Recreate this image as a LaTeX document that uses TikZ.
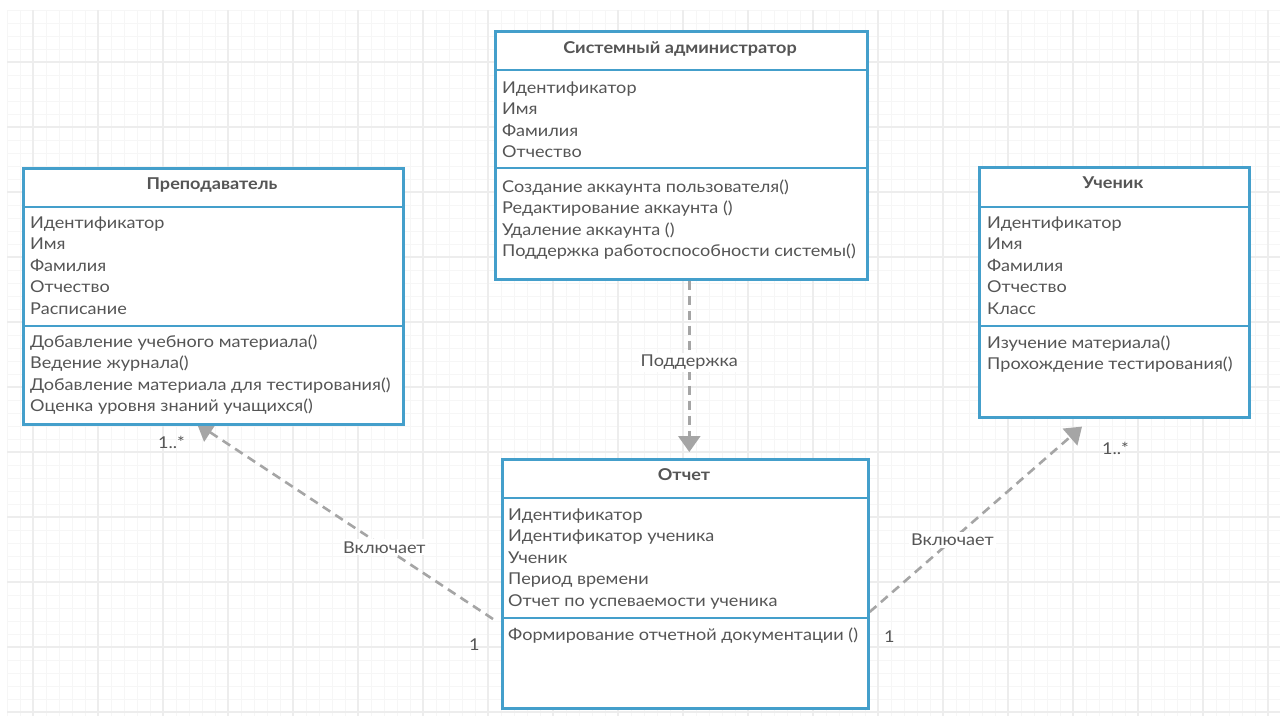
\documentclass[tikz,border=0pt]{standalone}
\usepackage{fontspec}
\setmainfont{Lato}[FakeStretch=1.11]
\usetikzlibrary{arrows.meta,calc}
\pgfdeclarelayer{grid}
\pgfdeclarelayer{links}
\pgfsetlayers{grid,links,main}

\definecolor{umlblue}{HTML}{449FCB}
\definecolor{umltext}{HTML}{555555}
\definecolor{linkgray}{HTML}{A5A5A5}
\definecolor{gridminor}{HTML}{F6F6F6}
\definecolor{gridmajor}{HTML}{EDEDED}

\tikzset{
  classbox/.style={draw=umlblue, line width=2.6pt, fill=white, anchor=north west, inner sep=0pt},
  divider/.style={draw=umlblue, line width=2.6pt},
  classtitle/.style={font=\fontsize{16.3}{21.5}\selectfont\bfseries, text=umltext, anchor=base, inner sep=0pt},
  members/.style={font=\fontsize{16.3}{21.5}\selectfont, text=umltext, anchor=north west, inner sep=0pt, align=left},
  link/.style={draw=linkgray, line width=2.6pt, dash pattern=on 9pt off 6pt,
    -{Triangle[width=22pt,length=16pt]}},
  linklabel/.style={font=\fontsize{16.3}{18}\selectfont, text=umltext, fill=white, inner sep=2pt},
  mult/.style={font=\fontsize{16.3}{18}\selectfont, text=umltext, anchor=base west, inner sep=0pt},
  minorline/.style={draw=gridminor, line width=1pt},
  majorline/.style={draw=gridmajor, line width=1.2pt}
}

\begin{document}
\begin{tikzpicture}[x=1pt, y=-1pt]
\useasboundingbox (0,0) rectangle (1280,716);

% background and grid
\begin{pgfonlayer}{grid}
  \fill[white] (0,0) rectangle (1280,716);
  \foreach \i in {0,...,97} \draw[minorline] ({7+13*\i},10) -- ({7+13*\i},716);
  \foreach \j in {0,...,54} \draw[minorline] (7,{10+13*\j}) -- (1280,{10+13*\j});
  \foreach \x in {33,98,...,1280} \draw[majorline] (\x,10) -- (\x,716);
  \foreach \y in {62,127,...,716} \draw[majorline] (7,\y) -- (1280,\y);
\end{pgfonlayer}

% class: system administrator
\node[classbox, minimum width=372pt, minimum height=248pt] (admin) at (494,30) {};
\draw[divider] ($(admin.north west)+(0,40)$) -- ($(admin.north east)+(0,40)$);
\draw[divider] ($(admin.north west)+(0,138)$) -- ($(admin.north east)+(0,138)$);
\node[classtitle] (admin-title) at (680,53) {Системный администратор};
\node[members] (admin-attrs) at (502,78) {\strut Идентификатор\\Имя\\Фамилия\\Отчество};
\node[members] (admin-ops) at (502,177) {\strut Создание аккаунта пользователя()\\Редактирование аккаунта ()\\Удаление аккаунта ()\\Поддержка работоспособности системы()};

% class: teacher
\node[classbox, minimum width=380pt, minimum height=256pt] (teacher) at (22,167) {};
\draw[divider] ($(teacher.north west)+(0,40)$) -- ($(teacher.north east)+(0,40)$);
\draw[divider] ($(teacher.north west)+(0,159)$) -- ($(teacher.north east)+(0,159)$);
\node[classtitle] (teacher-title) at (212,189) {Преподаватель};
\node[members] (teacher-attrs) at (30,213) {\strut Идентификатор\\Имя\\Фамилия\\Отчество\\Расписание};
\node[members] (teacher-ops) at (30,332) {\strut Добавление учебного материала()\\Ведение журнала()\\Добавление материала для тестирования()\\Оценка уровня знаний учащихся()};

% class: student
\node[classbox, minimum width=270pt, minimum height=250pt] (student) at (978,166) {};
\draw[divider] ($(student.north west)+(0,41)$) -- ($(student.north east)+(0,41)$);
\draw[divider] ($(student.north west)+(0,160)$) -- ($(student.north east)+(0,160)$);
\node[classtitle] (student-title) at (1113,188) {Ученик};
\node[members] (student-attrs) at (987,213) {\strut Идентификатор\\Имя\\Фамилия\\Отчество\\Класс};
\node[members] (student-ops) at (987,333) {\strut Изучение материала()\\Прохождение тестирования()};

% class: report
\node[classbox, minimum width=366pt, minimum height=249pt] (report) at (501,458) {};
\draw[divider] ($(report.north west)+(0,40)$) -- ($(report.north east)+(0,40)$);
\draw[divider] ($(report.north west)+(0,160)$) -- ($(report.north east)+(0,160)$);
\node[classtitle] (report-title) at (684,480) {Отчет};
\node[members] (report-attrs) at (508,505) {\strut Идентификатор\\Идентификатор ученика\\Ученик\\Период времени\\Отчет по успеваемости ученика};
\node[members] (report-ops) at (508,625) {\strut Формирование отчетной документации ()};

% connector end points
\coordinate (admin-out) at ($(admin.south)+(8,0)$);
\coordinate (report-in) at ($(report.north)+(4,-6)$);
\coordinate (report-left) at ($(report.north west)+(-8,161)$);
\coordinate (teacher-in) at ($(teacher.south west)+(175,-2)$);
\coordinate (report-right) at ($(report.north east)+(0,154)$);
\coordinate (student-in) at ($(student.south west)+(104,8)$);

% connectors
\begin{pgfonlayer}{links}
  \draw[link] (admin-out) -- (report-in);
  \draw[link] (report-left) -- (teacher-in);
  \draw[link] (report-right) -- (student-in);
\end{pgfonlayer}
\path (admin-out) -- (report-in) node[linklabel, pos=0.477] (lbl-support) {Поддержка};
\path (report-left) -- (teacher-in) node[linklabel, pos=0.367] (lbl-incl-left) {Включает};
\path (report-right) -- (student-in) node[linklabel, pos=0.39] (lbl-incl-right) {Включает};

% multiplicities
\node[mult] (m-teacher) at (158,448) {1..*};
\node[mult] (m-report-left) at (469,650) {1};
\node[mult] (m-student) at (1102,454) {1..*};
\node[mult] (m-report-right) at (884,642) {1};
\end{tikzpicture}
\end{document}
